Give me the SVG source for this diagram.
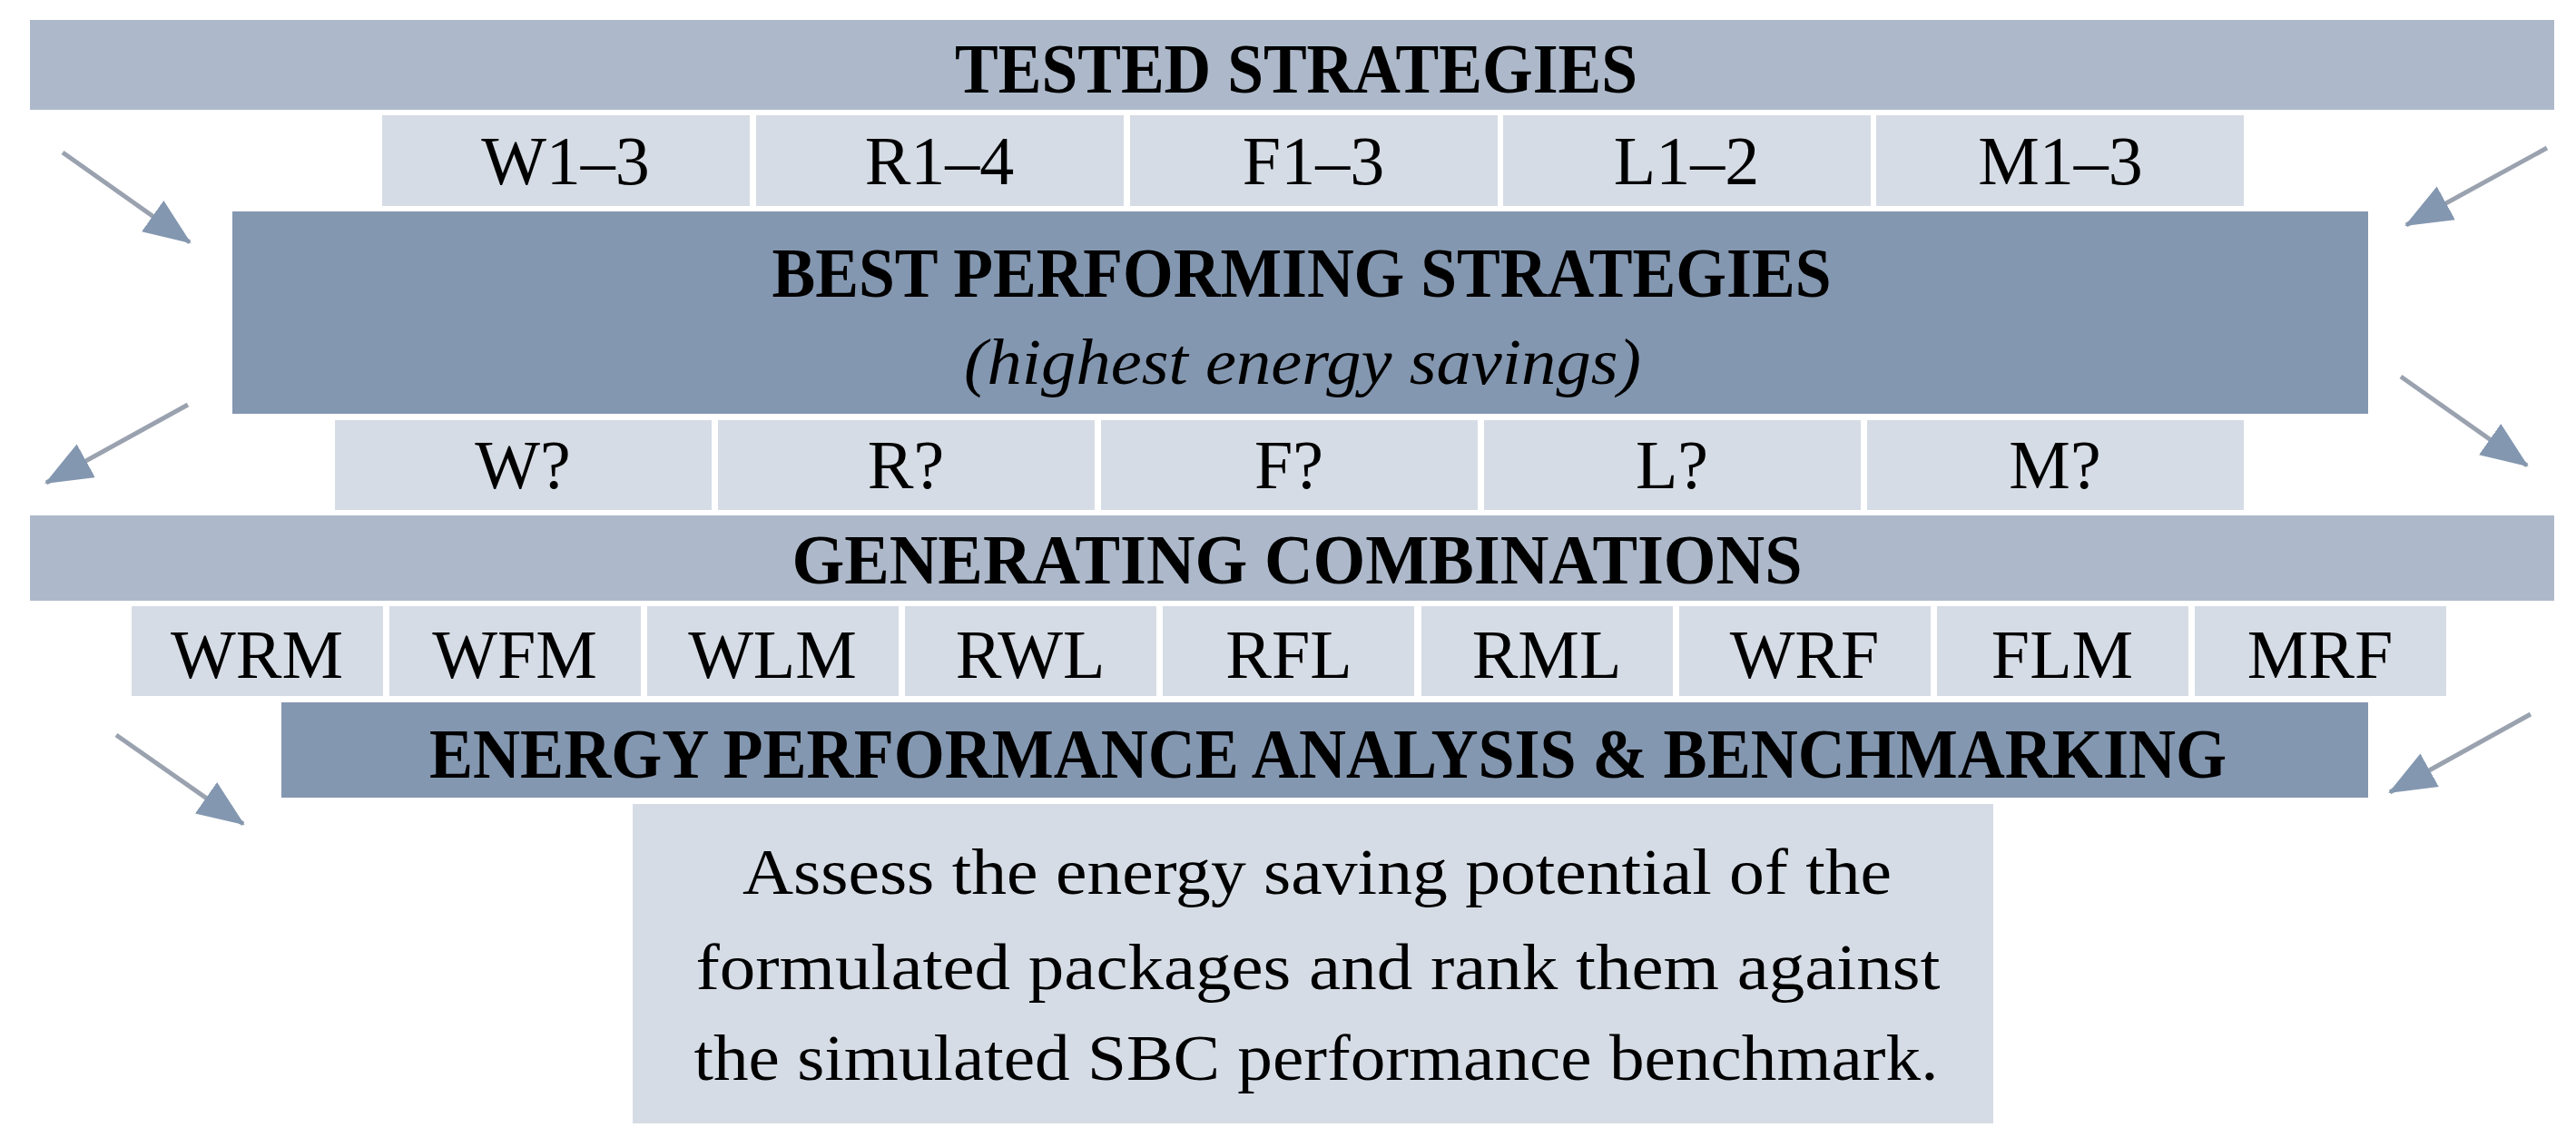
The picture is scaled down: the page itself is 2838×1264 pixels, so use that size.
<svg xmlns="http://www.w3.org/2000/svg" width="2838" height="1264" viewBox="0 0 2838 1264">
<style>
.bar-light{fill:#ADB9CA}
.bar-dark{fill:#8497B0}
.cell{fill:#D6DCE5}
.hdr{font-family:"Liberation Serif","Times New Roman",serif;font-weight:bold;font-size:78px;fill:#000;text-anchor:middle}
.lbl{font-family:"Liberation Serif","Times New Roman",serif;font-size:76px;fill:#000;text-anchor:middle}
.ital{font-family:"Liberation Serif","Times New Roman",serif;font-style:italic;font-size:72px;fill:#000;text-anchor:middle}
.desc{font-family:"Liberation Serif","Times New Roman",serif;font-size:72px;fill:#000;text-anchor:middle}
.arrow{stroke:#9AA2AF;stroke-width:5;fill:none;marker-end:url(#ah)}
</style>
<defs>
<marker id="ah" markerUnits="userSpaceOnUse" markerWidth="54" markerHeight="44" refX="50" refY="21" orient="auto">
<path d="M0,0 L52,21 L0,42 z" fill="#8497B0"/>
</marker>
</defs>
<rect width="2838" height="1264" fill="#FFFFFF"/>

<g id="tested-strategies">
<rect class="bar-light" x="33" y="22" width="2781" height="99"/>
<text class="hdr" x="1428" y="102" textLength="752" lengthAdjust="spacingAndGlyphs">TESTED STRATEGIES</text>
</g>
<g id="tested-W"><rect class="cell" x="421" y="127" width="405" height="100"/><text class="lbl" x="623" y="203">W1–3</text></g>
<g id="tested-R"><rect class="cell" x="833" y="127" width="405" height="100"/><text class="lbl" x="1035" y="203">R1–4</text></g>
<g id="tested-F"><rect class="cell" x="1245" y="127" width="405" height="100"/><text class="lbl" x="1447" y="203">F1–3</text></g>
<g id="tested-L"><rect class="cell" x="1656" y="127" width="405" height="100"/><text class="lbl" x="1858" y="203">L1–2</text></g>
<g id="tested-M"><rect class="cell" x="2067" y="127" width="405" height="100"/><text class="lbl" x="2270" y="203">M1–3</text></g>

<g id="best-performing">
<rect class="bar-dark" x="256" y="233" width="2353" height="223"/>
<text class="hdr" x="1434" y="327" textLength="1167" lengthAdjust="spacingAndGlyphs">BEST PERFORMING STRATEGIES</text>
<text class="ital" x="1435" y="423" textLength="746" lengthAdjust="spacingAndGlyphs">(highest energy savings)</text>
</g>
<g id="best-W"><rect class="cell" x="369" y="463" width="415" height="99"/><text class="lbl" x="576" y="538">W?</text></g>
<g id="best-R"><rect class="cell" x="791" y="463" width="415" height="99"/><text class="lbl" x="998" y="538">R?</text></g>
<g id="best-F"><rect class="cell" x="1213" y="463" width="415" height="99"/><text class="lbl" x="1420" y="538">F?</text></g>
<g id="best-L"><rect class="cell" x="1635" y="463" width="415" height="99"/><text class="lbl" x="1842" y="538">L?</text></g>
<g id="best-M"><rect class="cell" x="2057" y="463" width="415" height="99"/><text class="lbl" x="2264" y="538">M?</text></g>

<g id="generating-combinations">
<rect class="bar-light" x="33" y="568" width="2781" height="94"/>
<text class="hdr" x="1429" y="643" textLength="1113" lengthAdjust="spacingAndGlyphs">GENERATING COMBINATIONS</text>
</g>
<g id="combo-WRM"><rect class="cell" x="145" y="668" width="277" height="99"/><text class="lbl" x="283" y="747">WRM</text></g>
<g id="combo-WFM"><rect class="cell" x="429" y="668" width="277" height="99"/><text class="lbl" x="567" y="747">WFM</text></g>
<g id="combo-WLM"><rect class="cell" x="713" y="668" width="277" height="99"/><text class="lbl" x="851" y="747">WLM</text></g>
<g id="combo-RWL"><rect class="cell" x="997" y="668" width="277" height="99"/><text class="lbl" x="1135" y="747">RWL</text></g>
<g id="combo-RFL"><rect class="cell" x="1281" y="668" width="277" height="99"/><text class="lbl" x="1420" y="747">RFL</text></g>
<g id="combo-RML"><rect class="cell" x="1566" y="668" width="277" height="99"/><text class="lbl" x="1704" y="747">RML</text></g>
<g id="combo-WRF"><rect class="cell" x="1850" y="668" width="277" height="99"/><text class="lbl" x="1988" y="747">WRF</text></g>
<g id="combo-FLM"><rect class="cell" x="2134" y="668" width="277" height="99"/><text class="lbl" x="2272" y="747">FLM</text></g>
<g id="combo-MRF"><rect class="cell" x="2418" y="668" width="277" height="99"/><text class="lbl" x="2556" y="747">MRF</text></g>

<g id="energy-analysis">
<rect class="bar-dark" x="310" y="774" width="2299" height="105"/>
<text class="hdr" x="1463" y="857" textLength="1980" lengthAdjust="spacingAndGlyphs">ENERGY PERFORMANCE ANALYSIS &amp; BENCHMARKING</text>
</g>

<g id="description">
<rect class="cell" x="697" y="886" width="1499" height="352"/>
<text class="desc" x="1451" y="985" textLength="1266" lengthAdjust="spacingAndGlyphs">Assess the energy saving potential of the</text>
<text class="desc" x="1452" y="1090" textLength="1371" lengthAdjust="spacingAndGlyphs">formulated packages and rank them against</text>
<text class="desc" x="1450" y="1190" textLength="1371" lengthAdjust="spacingAndGlyphs">the simulated SBC performance benchmark.</text>
</g>

<g id="connectors">
<line class="arrow" x1="69" y1="168" x2="209" y2="267"/>
<line class="arrow" x1="2806" y1="163" x2="2651" y2="248"/>
<line class="arrow" x1="207" y1="446" x2="51" y2="532"/>
<line class="arrow" x1="2645" y1="415" x2="2784" y2="513"/>
<line class="arrow" x1="128" y1="810" x2="268" y2="908"/>
<line class="arrow" x1="2788" y1="787" x2="2633" y2="873"/>
</g>
</svg>
